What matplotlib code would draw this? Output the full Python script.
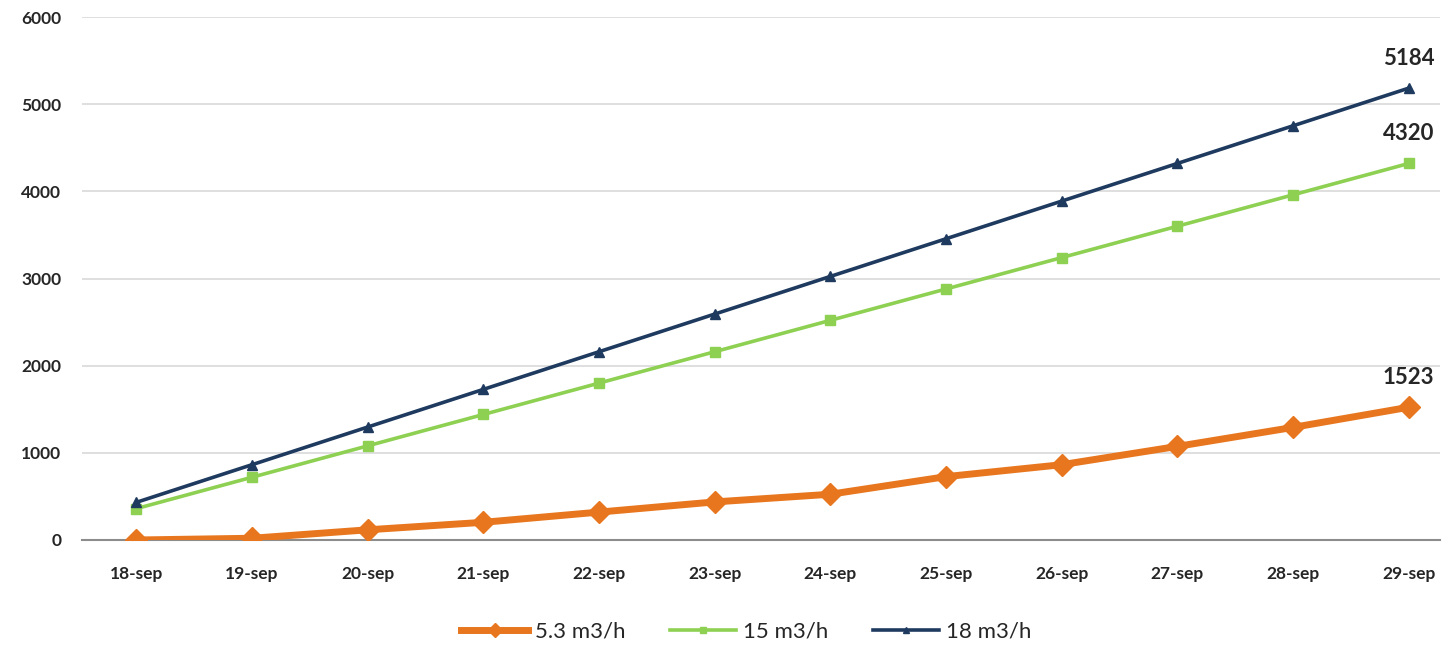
import numpy as np
import matplotlib.pyplot as plt

plt.rcParams['font.family'] = ['Lato', 'DejaVu Sans']

dates = ['18-sep', '19-sep', '20-sep', '21-sep', '22-sep', '23-sep',
         '24-sep', '25-sep', '26-sep', '27-sep', '28-sep', '29-sep']
flow_53 = [0, 20, 117, 203, 320, 437, 525, 727, 864, 1074, 1292, 1523]
flow_15 = [360, 720, 1080, 1440, 1800, 2160, 2520, 2880, 3240, 3600, 3960, 4320]
flow_18 = [432, 864, 1296, 1728, 2160, 2592, 3024, 3456, 3888, 4320, 4752, 5184]

x = np.arange(len(dates))

fig = plt.figure(figsize=(14.49, 6.45), dpi=100)
ax = fig.add_axes([82 / 1449, 1 - 540 / 645, (1440 - 82) / 1449, (540 - 17) / 645])

ax.plot(x, flow_53, color='#E8761E', lw=5, marker='D', ms=11.5, label='5.3 m3/h', zorder=3)
ax.plot(x, flow_15, color='#8DD052', lw=2.6, marker='s', ms=7, label='15 m3/h', zorder=3)
ax.plot(x, flow_18, color='#1F3A5F', lw=2.6, marker='^', ms=7, label='18 m3/h', zorder=4)

# value labels on the last day
for ys in (flow_53, flow_15, flow_18):
    ax.annotate(str(ys[-1]), (x[-1], ys[-1]), xytext=(0, 14), textcoords='offset points',
                ha='center', va='bottom', fontsize=16, fontweight='bold', color='#262626')

ax.set_xlim(-0.47, 11.27)
ax.set_ylim(0, 6000)
ax.set_yticks(np.arange(0, 6001, 1000))
ax.set_xticks(x)
ax.set_xticklabels(dates)
ax.grid(axis='y', color='#D9D9D9', lw=1.2)
ax.set_axisbelow(True)
for s in ['top', 'right', 'left']:
    ax.spines[s].set_visible(False)
ax.spines['bottom'].set_color('#8C8C8C')
ax.spines['bottom'].set_linewidth(1.5)
ax.tick_params(length=0, labelsize=12.5, colors='#262626')
ax.tick_params(axis='x', pad=19)
ax.tick_params(axis='y', pad=15)
for lbl in ax.get_xticklabels() + ax.get_yticklabels():
    lbl.set_fontweight('bold')

fig.legend(loc='center', bbox_to_anchor=(0.515, 1 - 632 / 645), ncol=3, frameon=False,
           fontsize=16, handlelength=3.0, columnspacing=2.0, handletextpad=0.3,
           markerscale=0.6, labelcolor='#262626')

fig.savefig('out.png', dpi=100)
